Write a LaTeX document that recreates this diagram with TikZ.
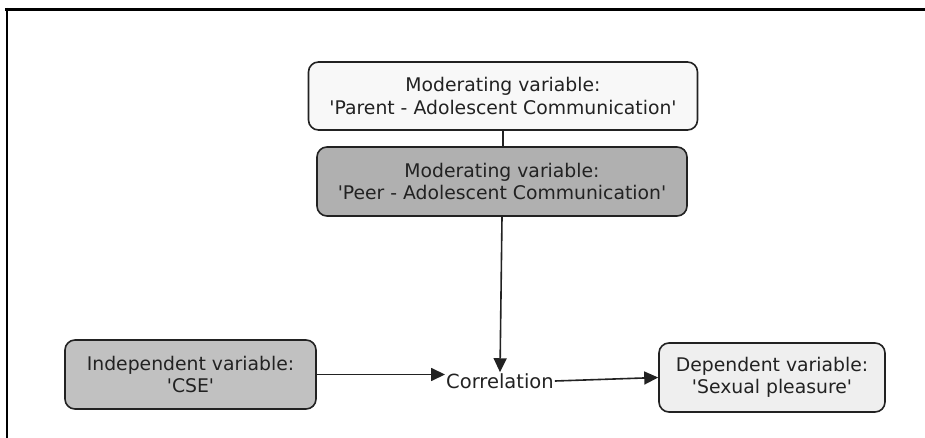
\documentclass[tikz,border=0pt]{standalone}
\usepackage{fontspec}
\setmainfont{DejaVu Sans}
\usetikzlibrary{arrows.meta, calc, positioning}
\definecolor{Parent_white}{rgb}{0.972, 0.972, 0.972}
\definecolor{Peer_gray}{rgb}{0.690, 0.690, 0.690}
\definecolor{Indep_gray}{rgb}{0.757, 0.757, 0.757}
\definecolor{Dep_white}{rgb}{0.937, 0.937, 0.937}
\definecolor{Line_black}{rgb}{0.133, 0.133, 0.133}
\newcommand{\sq}{\textquotesingle}
\tikzset{
  varbox/.style={draw=Line_black, line width=1.6pt, rounded corners=10pt,
    align=center, inner sep=0pt, minimum height=69pt, text=Line_black,
    font=\fontsize{18.8}{22.5}\selectfont},
  link/.style={draw=Line_black, line width=1.6pt},
  flow/.style={link, -{Triangle[length=14pt, width=13pt]}}
}

\begin{document}
\begin{tikzpicture}[x=1pt, y=-1pt]
        \useasboundingbox (0, 0) rectangle (925, 438);
        % cropped frame
        \draw[line width=3pt] (5, 9.5) -- (925, 9.5);
        \draw[line width=2.6pt] (7, 8) -- (7, 438);
        % variables
        \node[varbox, fill=Parent_white, minimum width=389pt, minimum height=68pt] (parent) at (503, 96)
            {Moderating variable:\\\sq Parent - Adolescent Communication\sq};
        \node[varbox, fill=Peer_gray, minimum width=370pt] (peer) at (502, 181.5)
            {Moderating variable:\\\sq Peer - Adolescent Communication\sq};
        \node[varbox, fill=Indep_gray, minimum width=251pt] (indep) at (190.5, 374.5)
            {Independent variable:\\\sq CSE\sq};
        \node[varbox, fill=Dep_white, minimum width=226pt] (dep) at (772, 377.5)
            {Dependent variable:\\\sq Sexual pleasure\sq};
        \node[inner sep=1pt, text=Line_black, font=\fontsize{19.5}{22}\selectfont] (corr) at (500, 381) {Correlation};
        % connectors
        \draw[link] (parent.south) -- (parent.south |- peer.north);
        \draw[flow] (peer.south) -- (corr.north);
        \draw[flow] (indep.east) -- (indep.east -| corr.west);
        \draw[flow] (corr.east) -- (dep.west);
    \end{tikzpicture}
\end{document}
